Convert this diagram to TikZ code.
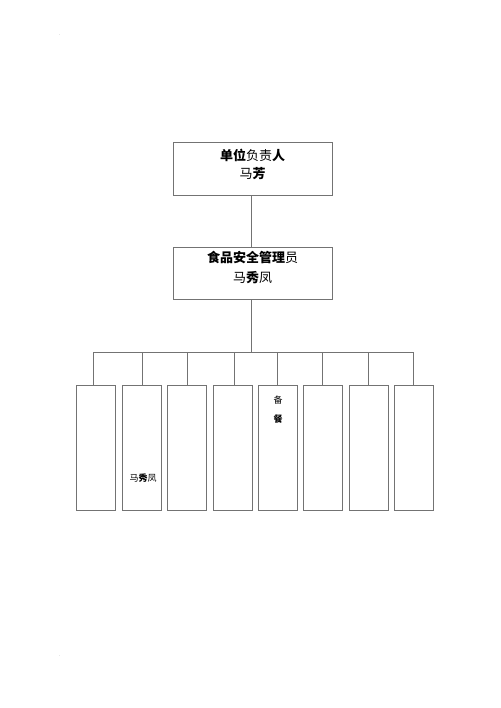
\documentclass[tikz,border=0pt]{standalone}
\usepackage{fontspec}
\newfontfamily\cjk{Noto Sans CJK SC}
\begin{document}
\begin{tikzpicture}[x=1pt,y=-1pt,
  box/.style={draw=gray!90!black,line width=0.9pt,fill=white,inner sep=0pt},
  wire/.style={draw=gray!90!black,line width=0.9pt},
  lbl/.style={font=\cjk\fontsize{13}{16}\selectfont,text=black,align=center},
  sml/.style={font=\cjk\fontsize{9}{11}\selectfont,text=black,inner sep=0pt},
  dotmark/.style={font=\fontsize{5}{6}\selectfont,text=gray,inner sep=0pt}]
\useasboundingbox (0,0) rectangle (500,708);
% top boxes
\node[box,minimum width=159pt,minimum height=53pt] (head) at (252.5,168.5) {};
\node[lbl,anchor=center] (headt) at (252.5,155) {{\bfseries 单位}负责{\bfseries 人}};
\node[lbl,anchor=center] (headn) at (252.5,174) {马{\bfseries 芳}};
\node[box,minimum width=159pt,minimum height=52pt] (mgr) at (252.5,273) {};
\node[lbl,anchor=center] (mgrt) at (252.5,258) {{\bfseries 食品安全管理}员};
\node[lbl,anchor=center] (mgrn) at (252.5,278) {马{\bfseries 秀}凤};
\draw[wire] (head.south -| 251,0) -- (mgr.north -| 251,0);
% bus
\coordinate (bus) at (251,352);
\coordinate (busL) at (93,352);
\coordinate (busR) at (413,352);
\draw[wire] (mgr.south -| bus) -- (bus);
\draw[wire] (busL) -- (busR);
% bottom boxes
\foreach \i/\xl/\xr/\dx in {1/76/115/93, 2/122/161/142, 3/167/206/187, 4/213/252/234, 5/258/297/277, 6/303/342/322, 7/349/388/368, 8/394/433/413}{
  \node[box,minimum width={(\xr-\xl)*1pt},minimum height=125pt] (b\i) at ({(\xl+\xr)/2},447.5) {};
  \coordinate (d\i) at (\dx,352);
  \draw[wire] (d\i) -- (d\i |- b\i.north);
}
\node[sml] (t2) at (143,478) {马{\bfseries 秀}凤};
\node[sml] (t5a) at (278,400) {备};
\node[sml] (t5b) at (278,419) {\bfseries 餐};
\node[dotmark] (dot1) at (60,35) {.};
\node[dotmark] (dot2) at (60,656) {.};
\end{tikzpicture}
\end{document}
